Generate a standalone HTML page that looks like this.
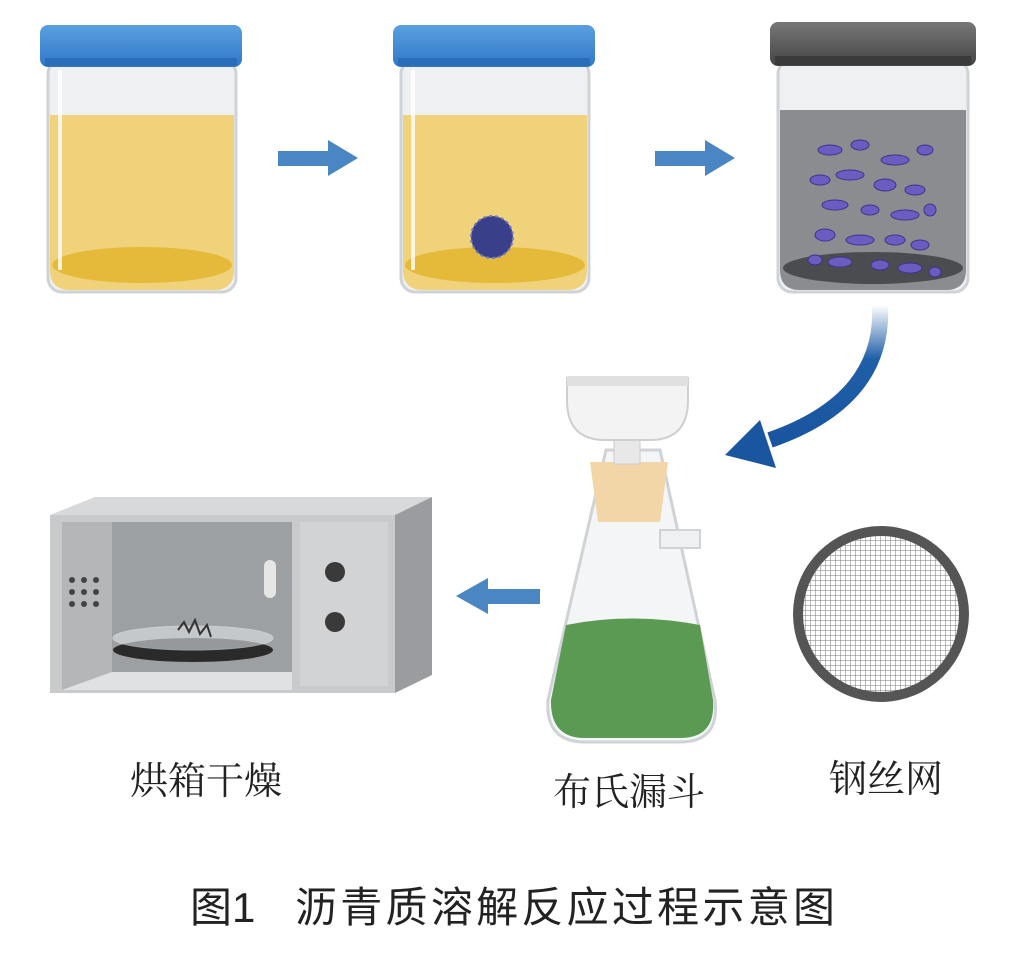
<!DOCTYPE html>
<html><head><meta charset="utf-8"><style>
html,body{margin:0;padding:0;background:#fff;}
svg{display:block}
text{font-family:"Liberation Sans","Noto Sans CJK SC",sans-serif;}
.lb{font-family:"Liberation Serif","Noto Serif CJK SC",serif;}
</style></head><body>
<svg width="1035" height="953" viewBox="0 0 1035 953" xmlns="http://www.w3.org/2000/svg">
<defs>
<linearGradient id="lid" x1="0" x2="0" y1="0" y2="1"><stop offset="0" stop-color="#5aa0e0"/><stop offset="1" stop-color="#2f78c8"/></linearGradient>
<linearGradient id="lidg" x1="0" x2="0" y1="0" y2="1"><stop offset="0" stop-color="#777"/><stop offset="1" stop-color="#444"/></linearGradient>
<linearGradient id="curv" x1="0" x2="0" y1="0" y2="1"><stop offset="0" stop-color="#1f5fa8" stop-opacity="0"/><stop offset="0.4" stop-color="#1f5fa8"/><stop offset="1" stop-color="#1a55a0"/></linearGradient>
<pattern id="mesh" width="5" height="5" patternUnits="userSpaceOnUse"><rect width="5" height="5" fill="#fff"/><path d="M0 0H5M0 0V5" stroke="#777" stroke-width="1"/></pattern>
<clipPath id="mc"><circle cx="881" cy="614" r="78"/></clipPath>
</defs>

<g>
<rect x="48" y="60" width="188" height="232" rx="14" fill="#eef0f2" stroke="#cfd3d6" stroke-width="3"/>
<path d="M50 115 H234 V270 Q234 290 214 290 H70 Q50 290 50 270Z" fill="#efd27a"/>
<ellipse cx="142" cy="265" rx="90" ry="18" fill="#e5b93a"/>
<rect x="58" y="70" width="4" height="200" fill="#fff" opacity=".8"/>
<rect x="40" y="25" width="202" height="42" rx="8" fill="url(#lid)"/>
<rect x="45" y="58" width="192" height="8" fill="#2a6db8"/>
</g>
<g>
<rect x="401" y="60" width="188" height="232" rx="14" fill="#eef0f2" stroke="#cfd3d6" stroke-width="3"/>
<path d="M403 115 H587 V270 Q587 290 567 290 H423 Q403 290 403 270Z" fill="#efd27a"/>
<ellipse cx="495" cy="265" rx="90" ry="18" fill="#e5b93a"/>
<rect x="411" y="70" width="4" height="200" fill="#fff" opacity=".8"/>
<circle cx="492" cy="237" r="21" fill="#3a3f8a"/>
<circle cx="492" cy="237" r="21" fill="none" stroke="#6f78c8" stroke-width="2" stroke-dasharray="3 3"/>
<rect x="393" y="25" width="202" height="42" rx="8" fill="url(#lid)"/>
<rect x="398" y="58" width="192" height="8" fill="#2a6db8"/>
</g>
<g>
<rect x="778" y="60" width="190" height="232" rx="14" fill="#eef0f2" stroke="#cfd3d6" stroke-width="3"/>
<path d="M780 110 H966 V270 Q966 290 946 290 H800 Q780 290 780 270Z" fill="#8a8c90"/>
<ellipse cx="873" cy="268" rx="90" ry="16" fill="#4a4c50"/>
<g fill="#6a5cc0" stroke="#3e338a" stroke-width="1">
<ellipse cx="830" cy="150" rx="12" ry="5"/><ellipse cx="860" cy="145" rx="9" ry="5"/><ellipse cx="895" cy="160" rx="14" ry="5"/>
<ellipse cx="925" cy="150" rx="8" ry="5"/><ellipse cx="820" cy="180" rx="10" ry="5"/><ellipse cx="850" cy="175" rx="14" ry="5"/>
<ellipse cx="885" cy="185" rx="11" ry="6"/><ellipse cx="915" cy="190" rx="10" ry="5"/><ellipse cx="835" cy="205" rx="13" ry="5"/>
<ellipse cx="870" cy="210" rx="9" ry="5"/><ellipse cx="905" cy="215" rx="14" ry="5"/><ellipse cx="930" cy="210" rx="6" ry="6"/>
<ellipse cx="825" cy="235" rx="10" ry="6"/><ellipse cx="860" cy="240" rx="14" ry="5"/><ellipse cx="895" cy="240" rx="10" ry="5"/>
<ellipse cx="920" cy="245" rx="9" ry="5"/><ellipse cx="840" cy="262" rx="12" ry="5"/><ellipse cx="880" cy="265" rx="9" ry="5"/>
<ellipse cx="910" cy="268" rx="12" ry="5"/><ellipse cx="935" cy="272" rx="6" ry="5"/><ellipse cx="815" cy="260" rx="7" ry="5"/>
</g>
<rect x="770" y="22" width="206" height="44" rx="8" fill="url(#lidg)"/>
<rect x="775" y="56" width="196" height="9" fill="#3a3a3a"/>
</g>

<g fill="#4a86c4">
<rect x="278" y="151" width="52" height="15"/><polygon points="328,140 358,158 328,176"/>
<rect x="655" y="151" width="52" height="15"/><polygon points="705,140 735,158 705,176"/>
<rect x="485" y="589" width="55" height="15"/><polygon points="488,578 456,596 488,614"/>
</g>
<path d="M880 305 Q885 400 770 440" fill="none" stroke="url(#curv)" stroke-width="16"/>
<polygon points="760,420 725,455 776,468" fill="#1a55a0"/>

<g>
<path d="M606 450 L548 700 Q545 742 585 742 H680 Q720 742 715 700 L660 450Z" fill="#f4f5f6" stroke="#cfd3d6" stroke-width="3"/>
<path d="M566 625 Q630 612 700 625 L713 700 Q716 738 680 738 H585 Q550 738 551 700Z" fill="#5a9a52"/>
<rect x="660" y="530" width="40" height="18" fill="#eef0f2" stroke="#cfd3d6" stroke-width="2"/>
<polygon points="590,462 668,462 660,522 598,522" fill="#f2d6a8"/>
<rect x="614" y="432" width="26" height="32" fill="#e8e8e8" stroke="#ccc"/>
<path d="M567 378 H688 V400 Q688 440 650 440 H605 Q567 440 567 400Z" fill="#f3f3f3" stroke="#cfcfcf" stroke-width="2"/>
<rect x="567" y="376" width="121" height="10" fill="#e0e0e0"/>
</g>

<circle cx="881" cy="614" r="88" fill="#555"/>
<rect x="790" y="530" width="182" height="170" fill="url(#mesh)" clip-path="url(#mc)"/>

<g>
<polygon points="50,515 95,497 432,497 395,515" fill="#d8d9db"/>
<polygon points="395,515 432,497 432,675 395,693" fill="#9a9ca0"/>
<rect x="50" y="515" width="345" height="178" fill="#c8cacc"/>
<rect x="300" y="522" width="88" height="164" fill="#d2d3d5"/>
<polygon points="62,522 112,522 112,672 62,690" fill="#b4b6b8"/>
<rect x="112" y="522" width="180" height="150" fill="#9da0a3"/>
<polygon points="62,690 112,672 292,672 292,690" fill="#e0e1e2"/>
<rect x="264" y="560" width="12" height="38" rx="6" fill="#e6e6e6"/>
<g fill="#444">
<circle cx="72" cy="580" r="3"/><circle cx="84" cy="580" r="3"/><circle cx="96" cy="580" r="3"/>
<circle cx="72" cy="592" r="3"/><circle cx="84" cy="592" r="3"/><circle cx="96" cy="592" r="3"/>
<circle cx="72" cy="604" r="3"/><circle cx="84" cy="604" r="3"/><circle cx="96" cy="604" r="3"/>
</g>
<circle cx="335" cy="572" r="10" fill="#3a3a3a"/><circle cx="335" cy="622" r="10" fill="#3a3a3a"/>
<ellipse cx="193" cy="650" rx="80" ry="12" fill="#2a2a2a"/>
<ellipse cx="193" cy="638" rx="80" ry="12" fill="#dfe4e6" opacity=".6" stroke="#eee"/>
<path d="M178 630 l6 -8 l5 10 l6 -12 l5 14 l7 -9 l4 12" stroke="#333" fill="none" stroke-width="2"/>
</g>

<text class="lb" x="206" y="794" font-size="38" text-anchor="middle" fill="#222">烘箱干燥</text>
<text class="lb" x="629" y="805" font-size="38" text-anchor="middle" fill="#222">布氏漏斗</text>
<text class="lb" x="886" y="792" font-size="38" text-anchor="middle" fill="#222">钢丝网</text>
<text x="190" y="922" font-size="42" fill="#222">图1</text>
<text x="295" y="922" font-size="42" fill="#222" textLength="540" lengthAdjust="spacing">沥青质溶解反应过程示意图</text>
</svg>
</body></html>
